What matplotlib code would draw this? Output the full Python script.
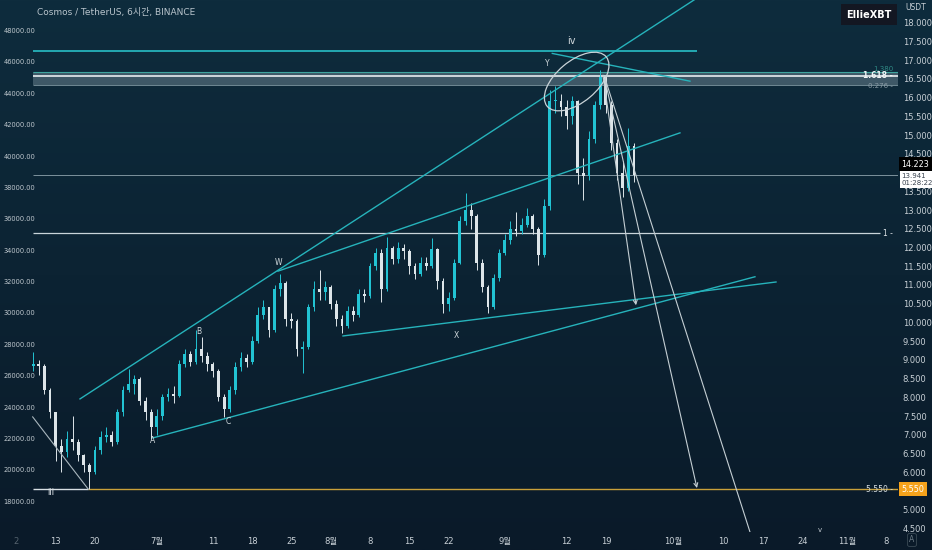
import numpy as np
import matplotlib
matplotlib.use("Agg")
import matplotlib.pyplot as plt
import matplotlib.transforms as mtransforms
from matplotlib.patches import Ellipse
from matplotlib.colors import LinearSegmentedColormap

plt.rcParams['font.family'] = ['DejaVu Sans', 'Noto Sans CJK KR']

# ATOM/USDT, one candle per day, day 0 = 2022-06-01
days = list(range(8, 116))
opens = [8.85, 8.90, 8.85, 8.20, 7.60, 6.70, 6.55, 6.90, 6.80, 6.45,
         6.20, 6.00, 6.60, 6.95, 7.00, 6.80, 7.60, 8.20, 8.35, 8.50,
         7.90, 7.60, 7.20, 7.50, 8.00, 8.10, 8.05, 8.90, 9.15, 8.95,
         9.30, 9.10, 8.90, 8.70, 8.00, 7.70, 8.20, 8.80, 9.05, 8.95,
         9.50, 10.20, 10.40, 9.80, 10.90, 11.05, 10.10, 10.05, 9.30, 9.35,
         10.40, 10.90, 10.80, 10.95, 10.50, 10.10, 9.90, 10.30, 10.20, 10.75,
         10.70, 11.50, 11.85, 10.90, 12.00, 11.70, 12.00, 11.90, 11.50, 11.30,
         11.60, 11.50, 11.95, 11.10, 10.50, 10.65, 11.60, 12.70, 13.00, 12.85,
         11.60, 10.95, 10.40, 11.20, 11.85, 12.20, 12.50, 12.45, 12.60, 12.85,
         12.50, 11.80, 13.10, 15.90, 15.90, 15.75, 15.50, 15.90, 14.00, 13.90,
         14.90, 15.80, 16.55, 15.80, 14.80, 14.00, 13.60, 14.70]
closes = [8.90, 8.85, 8.20, 7.60, 6.70, 6.55, 6.90, 6.80, 6.45, 6.20,
          6.00, 6.60, 6.95, 7.00, 6.80, 7.60, 8.20, 8.35, 8.50, 7.90,
          7.60, 7.20, 7.50, 8.00, 8.10, 8.05, 8.90, 9.15, 8.95, 9.30,
          9.10, 8.90, 8.70, 8.00, 7.70, 8.20, 8.80, 9.05, 8.95, 9.50,
          10.20, 10.40, 9.80, 10.90, 11.05, 10.10, 10.05, 9.30, 9.35, 10.40,
          10.90, 10.80, 10.95, 10.50, 10.10, 9.90, 10.30, 10.20, 10.75, 10.70,
          11.50, 11.85, 10.90, 12.00, 11.70, 12.00, 11.90, 11.50, 11.30, 11.60,
          11.50, 11.95, 11.10, 10.50, 10.65, 11.60, 12.70, 13.00, 12.85, 11.60,
          10.95, 10.40, 11.20, 11.85, 12.20, 12.50, 12.45, 12.60, 12.85, 12.50,
          11.80, 13.10, 15.90, 15.90, 15.75, 15.50, 15.90, 14.00, 13.90, 14.90,
          15.80, 16.55, 15.80, 14.80, 14.00, 13.60, 14.70, 13.94]
highs = [9.20, 9.00, 8.90, 8.25, 7.60, 6.90, 7.10, 7.50, 6.90, 6.50,
         6.25, 6.70, 7.10, 7.20, 7.10, 7.70, 8.30, 8.75, 8.60, 8.55,
         8.00, 7.70, 7.70, 8.10, 8.25, 8.30, 9.00, 9.30, 9.25, 9.80,
         9.60, 9.20, 8.95, 8.75, 8.10, 8.30, 8.95, 9.20, 9.15, 9.65,
         10.40, 10.60, 10.40, 11.00, 11.30, 11.10, 10.25, 10.10, 9.50, 10.50,
         11.10, 11.40, 11.10, 11.00, 10.60, 10.20, 10.45, 10.45, 10.90, 10.90,
         11.60, 12.00, 11.95, 12.28, 12.05, 12.15, 12.10, 11.95, 11.60, 11.75,
         11.75, 12.25, 12.00, 11.20, 10.80, 11.70, 12.85, 13.45, 13.20, 12.90,
         11.70, 11.00, 11.30, 11.95, 12.35, 12.70, 12.95, 12.80, 13.05, 12.90,
         12.55, 13.30, 16.20, 16.30, 16.10, 15.95, 16.05, 15.95, 14.40, 15.10,
         15.90, 16.74, 16.60, 15.90, 14.90, 14.30, 15.20, 14.80]
lows = [8.70, 8.60, 8.10, 7.45, 6.30, 6.00, 6.40, 6.60, 6.30, 6.00,
        5.56, 5.95, 6.50, 6.80, 6.70, 6.75, 7.50, 8.15, 8.10, 7.80,
        7.40, 6.90, 7.00, 7.40, 7.90, 7.85, 8.00, 8.80, 8.85, 8.90,
        8.95, 8.70, 8.55, 7.90, 7.48, 7.60, 8.10, 8.70, 8.80, 8.90,
        9.45, 10.10, 9.60, 9.75, 10.70, 9.90, 9.85, 9.10, 8.65, 9.30,
        10.30, 10.60, 10.60, 10.35, 9.90, 9.72, 9.85, 10.05, 10.15, 10.55,
        10.65, 11.40, 10.55, 10.85, 11.55, 11.60, 11.70, 11.30, 11.15, 11.25,
        11.40, 11.45, 10.90, 10.25, 10.30, 10.60, 11.55, 12.60, 12.50, 11.40,
        10.80, 10.25, 10.35, 11.10, 11.80, 12.10, 12.30, 12.35, 12.55, 12.35,
        11.53, 11.75, 13.00, 15.60, 15.50, 15.15, 15.30, 13.70, 13.26, 13.80,
        14.80, 15.70, 15.60, 14.60, 13.80, 13.35, 13.50, 13.75]

# drawn levels
level_start = 7.96
top_level = 17.245
fib_band = [16.329, 16.676]
fib_1618 = 16.586
last_price = 13.941
level_one = 12.38
bottom_level = 5.55
prev_price = 14.223

# trend lines: (day, price) pairs
trend_lines = {
    'upper': [(16.33, 7.96), (126.76, 18.71)],
    'w_line': [(51.60, 11.37), (123.2, 15.06)],
    'a_line': [(29.33, 6.92), (136.56, 11.22)],
    'x_line': [(63.18, 9.64), (140.31, 11.08)],
    'top_down': [(100.46, 17.18), (124.98, 16.44)],
}
fall_line = [(7.90, 7.48), (17.81, 5.55)]
arrows = [[(109.49, 16.60), (115.37, 10.46)],
          [(109.84, 16.47), (126.23, 5.58)]]
long_drop = [(109.84, 16.52), (135.67, 4.41)]
ellipse_center = (104.80, 16.43)

wave_labels = [('W', 51.6, 11.59), ('B', 37.5, 9.77), ('A', 29.33, 6.84),
               ('C', 42.7, 7.35), ('X', 83.3, 9.64), ('Y', 99.5, 16.9)]

price_ticks = np.arange(4.5, 18.01, 0.5)
hidden_ticks = [5.5, 14.0]   # covered by the price tags in the reference
left_ticks = [48000, 46000, 44000, 42000, 40000, 38000, 36000, 34000,
              32000, 30000, 28000, 26000, 24000, 22000, 20000, 18000]
date_days = [5, 12, 19, 30, 40, 47, 54, 61, 68, 75, 82, 92, 103, 110,
             122, 131, 138, 145, 153, 160]
date_labels = ['2', '13', '20', '7월', '11', '18', '25', '8월', '8', '15', '22',
               '9월', '12', '19', '10월', '10', '17', '24', '11월', '8']

UP = '#22c3d3'
DOWN = '#dde5e9'
TEAL = '#26b3bb'
TXT = '#c8d0d6'

fig = plt.figure(figsize=(9.32, 5.5), dpi=100)

# background gradient
bg = fig.add_axes([0, 0, 1, 1], zorder=-10)
cmap = LinearSegmentedColormap.from_list('bg', ['#0e2c3d', '#0a1a29'])
bg.imshow(np.linspace(0, 1, 256).reshape(-1, 1), aspect='auto', cmap=cmap,
          extent=[0, 1, 0, 1])
bg.axis('off')

ax = fig.add_axes([0, 18 / 550, 898 / 932, 532 / 550])
ax.set_facecolor('none')
ax.set_xlim(2.08, 162.04)
ax.set_ylim(4.408, 18.606)
for s in ax.spines.values():
    s.set_visible(False)

# left overlay scale (separate axes so the price scale stays on the right)
ax2 = fig.add_axes(ax.get_position(), sharex=ax, frameon=False)
ax2.set_ylim(16069, 49976)
ax2.set_axis_off()
ltrans = mtransforms.blended_transform_factory(ax2.transAxes, ax2.transData)
for v in left_ticks:
    ax2.text(0.004, v, f'{v:.2f}', transform=ltrans, fontsize=4.8,
             color='#c0c9cf', ha='left', va='center')

# candles
o = np.array(opens)
c = np.array(closes)
col = np.where(c >= o, UP, DOWN)
ax.vlines(days, lows, highs, colors=col, lw=0.7, zorder=3)
ax.bar(days, np.maximum(np.abs(c - o), 0.04), bottom=np.minimum(o, c),
       width=0.5, color=col, lw=0, zorder=4)

xr = ax.get_xlim()[1]

# horizontal levels
ax.hlines(top_level, level_start, 126.18, color=TEAL, lw=1.3, zorder=2)
ax.fill_between([level_start, xr], fib_band[0], fib_band[1],
                color='#8aa0ab', alpha=0.4, lw=0, zorder=1)
ax.hlines(fib_band[1], level_start, xr, color='#3fa59f', lw=0.8, zorder=2)
ax.hlines(fib_1618, level_start, xr, color='#e8eef0', lw=1.2, zorder=2)
ax.hlines(fib_band[0], level_start, xr, color='#7f97a2', lw=0.6, zorder=2)
ax.hlines(last_price, level_start, xr, color='#8fa3ad', lw=0.6, zorder=2)
ax.hlines(level_one, level_start, 158.8, color='#c9d4da', lw=0.9, zorder=2)
ax.hlines(bottom_level, level_start, fall_line[1][0], color='#d8dfe3', lw=1.0, zorder=2)
ax.hlines(bottom_level, fall_line[1][0], xr, color='#caa13a', lw=1.0, zorder=2)

# trend lines
for pts in trend_lines.values():
    ax.plot([p[0] for p in pts], [p[1] for p in pts], color=TEAL, lw=1.0, zorder=5)
ax.plot([p[0] for p in fall_line], [p[1] for p in fall_line], color='#aab7be', lw=0.8, zorder=5)

# projection arrows
for start, end in arrows:
    ax.annotate('', xy=end, xytext=start,
                arrowprops=dict(arrowstyle='->', color='#c5cfd4', lw=0.8,
                                shrinkA=0, shrinkB=0, mutation_scale=7), zorder=6)
ax.plot([p[0] for p in long_drop], [p[1] for p in long_drop], color='#c5cfd4', lw=0.8, zorder=6)

# ellipse around the top
etrans = fig.dpi_scale_trans + mtransforms.ScaledTranslation(
    ellipse_center[0], ellipse_center[1], ax.transData)
ax.add_patch(Ellipse((0, 0), 0.77, 0.41, angle=40, transform=etrans,
                     fill=False, ec='#c9d3d8', lw=0.9, zorder=6))

# wave labels
for lab, dx, py in wave_labels:
    ax.text(dx, py, lab, color='#d0d8dc', fontsize=5.5, ha='center', va='center', zorder=7)
ax.text(103.8, 17.51, 'iv', color='#d0d8dc', fontsize=7, ha='center', va='center')
ax.text(11.2, 5.47, 'iii', color='#e0e6ea', fontsize=6, ha='center', va='center')
ax.text(148.1, 4.46, 'v', color='#c0c9cf', fontsize=5, ha='center', va='center')

# right price scale
ax.yaxis.tick_right()
ax.set_yticks(price_ticks)
ax.set_yticklabels(['' if t in hidden_ticks else f'{t:.3f}' for t in price_ticks])
ax.tick_params(axis='y', length=0, pad=3.5, labelsize=6, labelcolor=TXT)

# time axis
ax.set_xticks(date_days)
ax.set_xticklabels(date_labels)
ax.tick_params(axis='x', length=0, pad=3.5, labelsize=6, labelcolor=TXT)
ax.get_xticklabels()[0].set_color('#55636e')

# level labels on the right edge
rt = mtransforms.blended_transform_factory(ax.transAxes, ax.transData)
ax.text(0.9944, 16.76, '1.380', transform=rt, fontsize=5, color='#2f8a85', ha='right', va='center')
ax.text(0.9944, fib_1618, '1.618 -', transform=rt, fontsize=5.5, color='#f0f4f6',
        ha='right', va='center', fontweight='bold')
ax.text(0.9944, fib_band[0] - 0.02, '0.276 -', transform=rt, fontsize=5, color='#8a9ca6',
        ha='right', va='center')
ax.text(0.9944, level_one, '1 -', transform=rt, fontsize=5.5, color='#e0e6ea', ha='right', va='center')
ax.text(0.9944, bottom_level, '5.550 -', transform=rt, fontsize=5.5, color='#d8dfe3',
        ha='right', va='center')

# price tags on the scale
ax.text(1.004, prev_price, '14.223', transform=rt, fontsize=5.8, color='white', ha='left',
        va='center', clip_on=False, zorder=10,
        bbox=dict(boxstyle='square,pad=0.3', fc='black', ec='none'))
ax.text(1.004, last_price - 0.13, '13.941\n01:28:22', transform=rt, fontsize=5.0,
        color='#3a4450', ha='left', va='center', clip_on=False, zorder=10, linespacing=1.1,
        bbox=dict(boxstyle='square,pad=0.3', fc='white', ec='none'))
ax.text(1.004, bottom_level, '5.550', transform=rt, fontsize=5.8, color='white', ha='left',
        va='center', clip_on=False, zorder=10,
        bbox=dict(boxstyle='square,pad=0.3', fc='#f5a21b', ec='none'))

# header and badges
ax.text(37 / 898, 1 - 12 / 532, 'Cosmos / TetherUS, 6시간, BINANCE', transform=ax.transAxes,
        fontsize=6.5, color='#b8c4cc', ha='left', va='center')
ax.text(869 / 898, 1 - 14.5 / 532, 'EllieXBT', transform=ax.transAxes, fontsize=7,
        color='white', ha='center', va='center', fontweight='bold',
        bbox=dict(boxstyle='square,pad=0.55', fc='#131722', ec='none'))
ax.text(905 / 898, 1 - 8 / 532, 'USDT', transform=ax.transAxes, fontsize=5.5,
        color=TXT, ha='left', va='center', clip_on=False)
ax.text(912 / 898, -8 / 532, 'A', transform=ax.transAxes, fontsize=5.5, color='#6d7c86',
        ha='center', va='center', clip_on=False,
        bbox=dict(boxstyle='round,pad=0.25', fc='none', ec='#3a4a55', lw=0.6))

fig.savefig('out.png', dpi=100, facecolor=fig.get_facecolor())
